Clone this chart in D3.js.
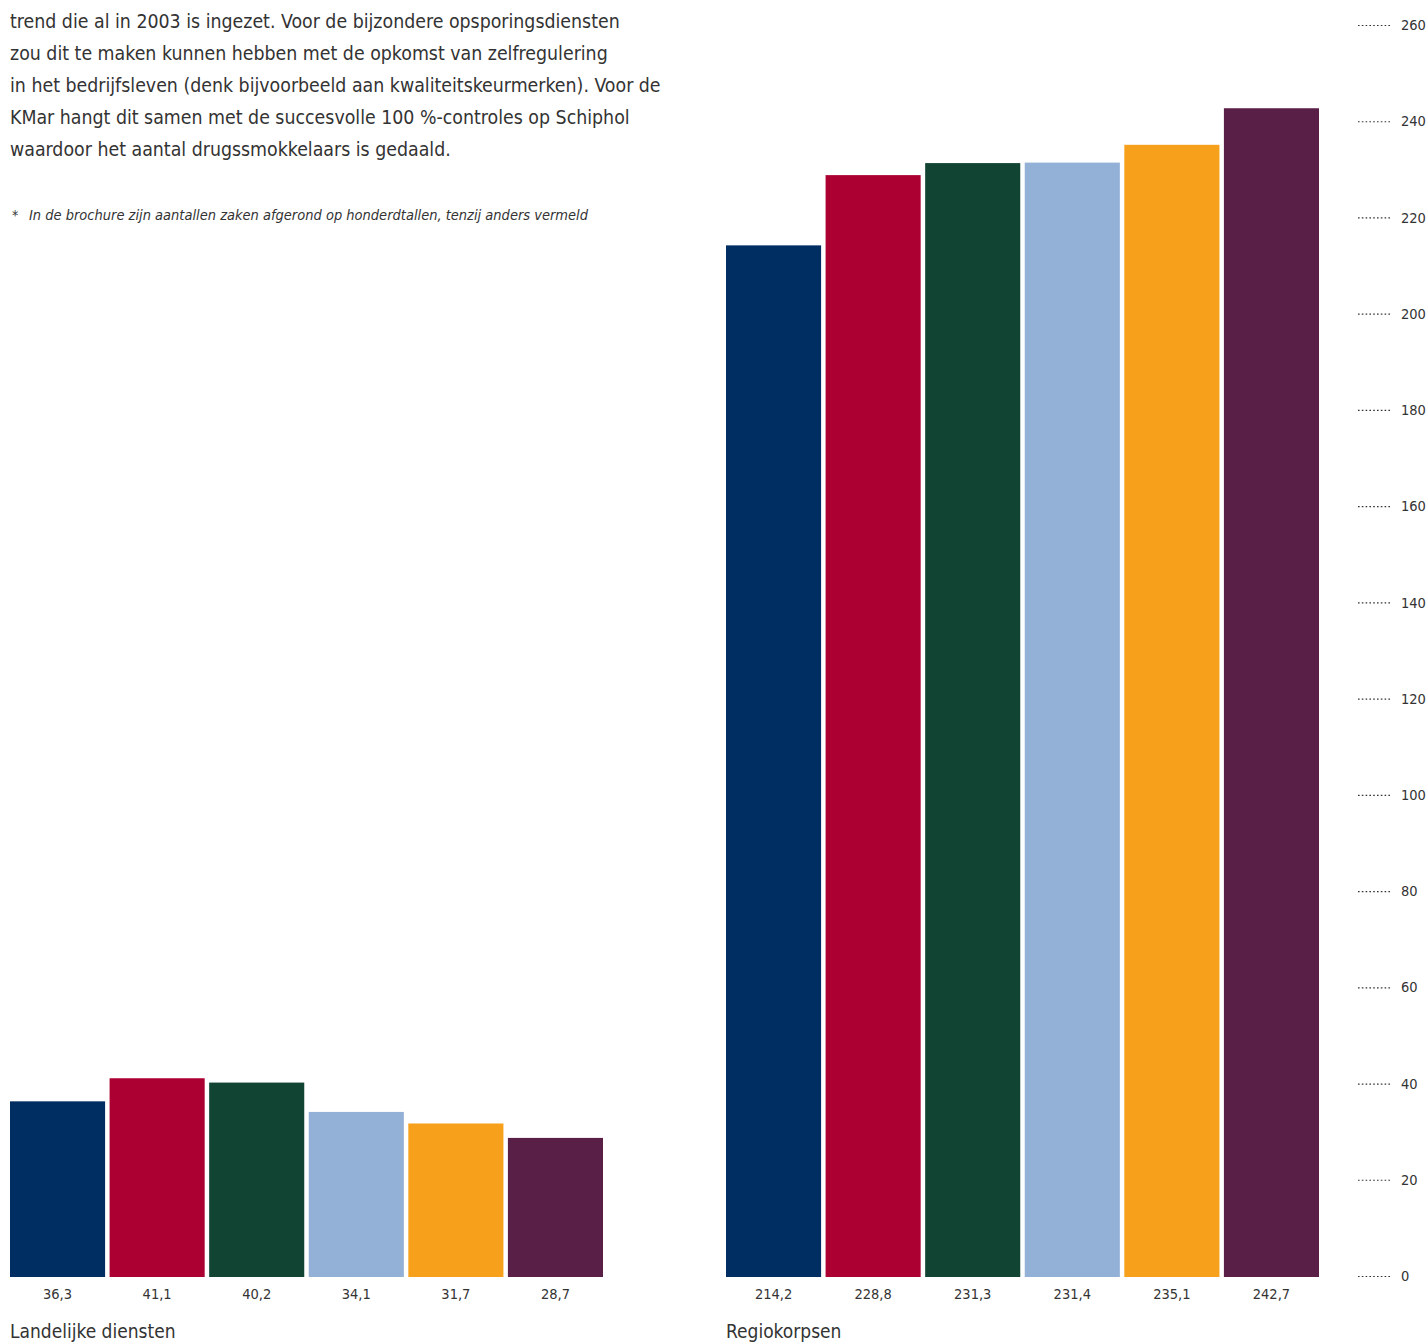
<!DOCTYPE html>
<html><head><meta charset="utf-8">
<script src="https://cdn.jsdelivr.net/npm/d3@7/dist/d3.min.js"></script>
<style>
html,body{margin:0;padding:0;background:#fff;}
svg{display:block;}
</style></head>
<body>
<script>
const bodyLines = [
  "trend die al in 2003 is ingezet. Voor de bijzondere opsporingsdiensten",
  "zou dit te maken kunnen hebben met de opkomst van zelfregulering",
  "in het bedrijfsleven (denk bijvoorbeeld aan kwaliteitskeurmerken). Voor de",
  "KMar hangt dit samen met de succesvolle 100 %-controles op Schiphol",
  "waardoor het aantal drugssmokkelaars is gedaald."
];
const footnote = "In de brochure zijn aantallen zaken afgerond op honderdtallen, tenzij anders vermeld";
const groups = ["Landelijke diensten", "Regiokorpsen"];
const landelijke = [36.3, 41.1, 40.2, 34.1, 31.7, 28.7];
const regiokorpsen = [214.2, 228.8, 231.3, 231.4, 235.1, 242.7];
const seriesIdx = [0,1,2,3,4,5];
const colors = ["#002d62", "#ac0033", "#114433", "#93b0d6", "#f6a01c", "#5a1f47"];
const yTicks = d3.range(0, 261, 20);

const W = 1427, H = 1343;
const svg = d3.select("body").append("svg").attr("width", W).attr("height", H);
const textColor = "#333";
const fontBody = "'Liberation Sans Narrow','DejaVu Sans Condensed','Roboto',sans-serif";

// body text
const bt = svg.append("g");
const lines = bt.selectAll("text").data(bodyLines).join("text")
  .attr("x", 10).attr("y", (d,i) => 28 + i*32)
  .attr("font-family", fontBody).attr("font-size", 20).attr("fill", textColor)
  .text(d => d);
let maxW = d3.max(lines.nodes(), n => n.getComputedTextLength());
lines.attr("font-size", 20 * 651 / maxW);

svg.append("text").attr("x", 12).attr("y", 220).attr("font-family", fontBody)
  .attr("font-size", 14).attr("fill", textColor).text("*");
const fn = svg.append("text").attr("x", 29).attr("y", 220).attr("font-family", fontBody)
  .attr("font-style", "italic").attr("font-size", 15).attr("fill", textColor).text(footnote);
fn.attr("font-size", 15 * 559 / fn.node().getComputedTextLength());

// scales
const y = d3.scaleLinear().domain([0, 260]).range([1276, 25]);
const xL = d3.scaleBand().domain(seriesIdx).range([10, 603]).paddingInner(0.045).paddingOuter(0);
const xR = d3.scaleBand().domain(seriesIdx).range([726, 1319]).paddingInner(0.045).paddingOuter(0);

function drawGroup(data, x, title, titleX) {
  const g = svg.append("g");
  g.selectAll("rect").data(data).join("rect")
    .attr("x", (d,i) => x(i)).attr("width", x.bandwidth())
    .attr("y", d => y(d)).attr("height", d => y(0) - y(d) + 1)
    .attr("fill", (d,i) => colors[i]);
  g.selectAll("text.val").data(data).join("text").attr("class","val")
    .attr("x", (d,i) => x(i) + x.bandwidth()/2).attr("y", 1299)
    .attr("text-anchor", "middle").attr("font-family", fontBody)
    .attr("font-size", 14.5).attr("fill", textColor)
    .text(d => d3.format(".1f")(d).replace(".", ","));
  g.append("text").attr("x", titleX).attr("y", 1338)
    .attr("font-family", fontBody).attr("font-size", 19).attr("fill", textColor).text(title);
}
drawGroup(landelijke, xL, groups[0], 10);
drawGroup(regiokorpsen, xR, groups[1], 726);

// right axis
const axis = d3.axisRight(y).tickValues(yTicks).tickSize(0).tickPadding(0);
const ag = svg.append("g").attr("transform", "translate(1358,0)").call(axis);
ag.select(".domain").remove();
ag.selectAll(".tick line").remove();
ag.selectAll(".tick").append("line").attr("x1", 0).attr("x2", 32)
  .attr("stroke", textColor).attr("stroke-width", 1.2).attr("stroke-dasharray", "1.6,2.2");
ag.selectAll(".tick text").attr("x", 43).attr("dy", "0.32em")
  .attr("font-family", fontBody).attr("font-size", 14.5).attr("fill", textColor);
</script>
</body></html>
